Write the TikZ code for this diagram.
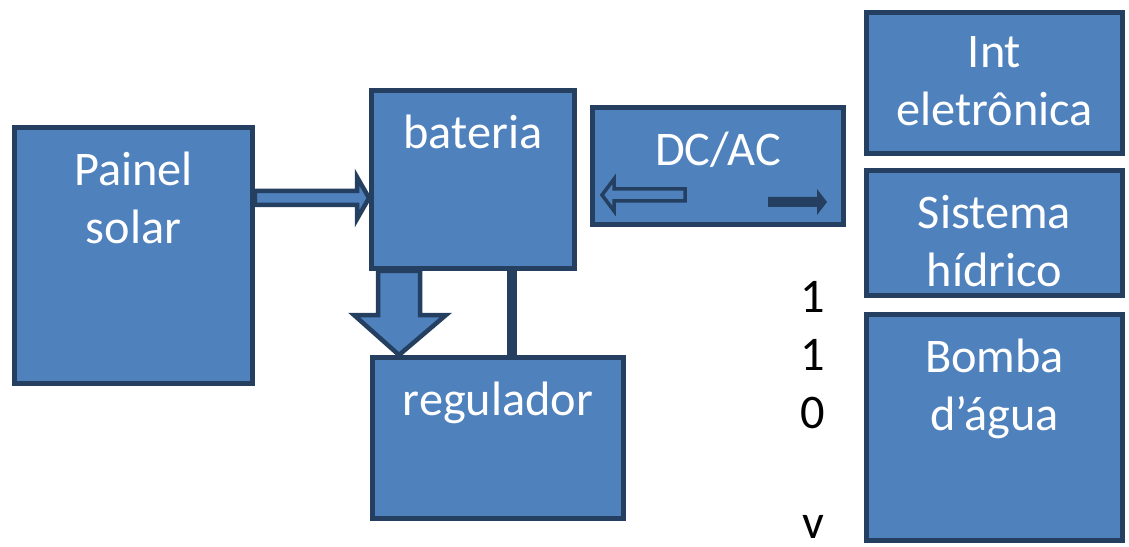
\documentclass[tikz,border=0pt]{standalone}
\usepackage{fontspec}
\setmainfont{Carlito}
\usepackage{tikz}
\usetikzlibrary{calc,positioning}
\usepackage{xcolor}
\definecolor{boxblue}{HTML}{4F81BD}
\definecolor{boxedge}{HTML}{243F60}

\begin{document}
\begin{tikzpicture}[
  x=0.02cm, y=-0.02cm,
  block/.style={draw=boxedge, fill=boxblue, line width=0.1cm, minimum width=5.12cm, inner sep=0pt},
  boxtext/.style={anchor=north, yshift=-0.53cm, inner sep=0pt, align=center, text=white, font=\fontsize{27.5}{33}\selectfont},
  volt/.style={inner sep=0pt, align=center, font=\fontsize{27.5}{33}\selectfont},
  barrow/.style={draw=boxedge, fill=boxblue, line width=0.09cm, miter limit=20},
  sarrow/.style={draw=boxedge, fill=boxblue, line width=0.07cm, miter limit=20},
  darrow/.style={fill=boxedge},
  link/.style={draw=boxedge, line width=0.2cm}
]
\useasboundingbox (0,0) rectangle (1129,547);

\node[block, minimum width=4.76cm, minimum height=5.12cm, label={[boxtext]north:Painel\\solar}] (painel) at (133.5,255.5) {};
\node[block, minimum width=4.06cm, minimum height=3.56cm, label={[boxtext]north:bateria}] (bateria) at (473,179.5) {};
\node[block, minimum width=5.02cm, minimum height=3.22cm, label={[boxtext]north:regulador}] (regulador) at (498,438) {};
\node[block, minimum width=5.02cm, minimum height=2.34cm, label={[boxtext]north:DC/AC}] (dcac) at (718,166) {};
\node[block, minimum height=2.82cm, label={[boxtext]north:Int\\eletrônica}] (inteletr) at (994.5,83) {};
\node[block, minimum height=2.5cm, label={[boxtext]north:Sistema\\hídrico}] (sistema) at (994.5,233) {};
\node[block, minimum height=4.52cm, label={[boxtext]north:Bomba\\d’água}] (bomba) at (994.5,427.5) {};

\node[volt, anchor=north] (tensao) at (813,281) {1\\1\\0\\[29.5pt]v};

% painel -> bateria
\draw[barrow] (painel.east |- 0,191) -- (357,191) -- (357,177) -- (bateria.west |- 0,198)
  -- (357,219) -- (357,205) -- (painel.east |- 0,205) -- cycle;
% bateria -> regulador
\draw[barrow] (378,0 |- bateria.south) -- (378,315) -- (354,315) -- (399,0 |- regulador.north)
  -- (446,315) -- (420,315) -- (420,0 |- bateria.south) -- cycle;
\draw[link] (512,0 |- bateria.south) -- (512,0 |- regulador.north);

% setas do inversor
\draw[sarrow] (602,195) -- (614,179) -- (614,189) -- (685,189) -- (685,201) -- (614,201) -- (614,211) -- cycle;
\fill[darrow] (768,197) -- (817,197) -- (817,189) -- (827,202) -- (817,215) -- (817,207) -- (768,207) -- cycle;
\end{tikzpicture}
\end{document}
